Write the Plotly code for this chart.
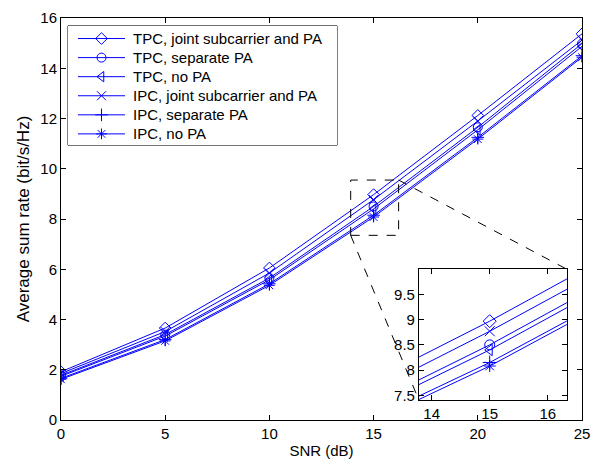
import plotly.graph_objects as go

# Average sum rate (bit/s/Hz) versus SNR (dB)
snr = [0, 5, 10, 15, 20, 25]
tpc_joint = [1.92, 3.66, 6.05, 8.97, 12.12, 15.37]
ipc_joint = [1.85, 3.52, 5.85, 8.77, 11.90, 15.12]
tpc_separate = [1.78, 3.40, 5.65, 8.50, 11.65, 14.98]
tpc_nopa = [1.74, 3.34, 5.58, 8.40, 11.55, 14.87]
ipc_separate = [1.66, 3.20, 5.42, 8.15, 11.25, 14.50]
ipc_nopa = [1.62, 3.15, 5.36, 8.08, 11.18, 14.44]

series = [
    ("TPC, joint subcarrier and PA", tpc_joint, "diamond-open"),
    ("TPC, separate PA", tpc_separate, "circle-open"),
    ("TPC, no PA", tpc_nopa, "triangle-left-open"),
    ("IPC, joint subcarrier and PA", ipc_joint, "x-thin-open"),
    ("IPC, separate PA", ipc_separate, "cross-thin-open"),
    ("IPC, no PA", ipc_nopa, "asterisk-open"),
]

# zoomed region shown in the inset
zoom_x = [13.9, 16.2]
zoom_y = [7.35, 9.55]
inset_x = [13.78, 16.33]
inset_y = [7.4, 10.0]

BLUE = "rgb(0,0,255)"
FONT = "Liberation Sans, Arial, Helvetica, sans-serif"

W, H = 607, 466
ml, mr, mt, mb = 61, 25, 9, 46
plot_w, plot_h = W - ml - mr, H - mt - mb
main_x = [0, 25]
main_y = [0, 16]
inset_dom_x = [0.687, 0.971]
inset_dom_y = [0.049, 0.375]

# legend box in pixels (left, top, width, height) and its row layout
leg_left, leg_top, leg_w, leg_h = 68, 17, 269, 122
leg_row0, leg_row_step = 13, 19.5
leg_line = [10, 57]
leg_text_x = 63

fig = go.Figure()

for name, vals, sym in series:
    fig.add_trace(go.Scatter(
        x=snr, y=vals, name=name, mode="lines+markers", showlegend=False,
        line=dict(color=BLUE, width=1),
        marker=dict(symbol=sym, size=9, color=BLUE, line=dict(color=BLUE, width=1)),
        xaxis="x", yaxis="y",
    ))
for name, vals, sym in series:
    fig.add_trace(go.Scatter(
        x=snr, y=vals, name=name, mode="lines+markers", showlegend=False,
        line=dict(color=BLUE, width=1),
        marker=dict(symbol=sym, size=10, color=BLUE, line=dict(color=BLUE, width=1)),
        xaxis="x2", yaxis="y2",
    ))

# legend: key samples drawn on a hidden pixel-scaled axis pair
for i, (name, vals, sym) in enumerate(series):
    ry = leg_row0 + i * leg_row_step
    fig.add_trace(go.Scatter(
        x=leg_line, y=[ry, ry], mode="lines", showlegend=False, hoverinfo="skip",
        line=dict(color=BLUE, width=1), xaxis="x3", yaxis="y3",
    ))
    fig.add_trace(go.Scatter(
        x=[sum(leg_line) / 2], y=[ry], mode="markers", showlegend=False, hoverinfo="skip",
        marker=dict(symbol=sym, size=9, color=BLUE, line=dict(color=BLUE, width=1)),
        xaxis="x3", yaxis="y3",
    ))
    fig.add_annotation(x=leg_text_x, y=ry, xref="x3", yref="y3", text=name,
                       showarrow=False, xanchor="left", yanchor="middle",
                       font=dict(family=FONT, size=15, color="black"))

axis_common = dict(
    showgrid=False, zeroline=False, showline=True, linecolor="black", linewidth=1,
    mirror="ticks", ticks="inside", ticklen=5, tickcolor="black",
    tickfont=dict(family=FONT, size=15, color="black"),
)

leg_dom_x = [(leg_left - ml) / plot_w, (leg_left + leg_w - ml) / plot_w]
leg_dom_y = [1 - (leg_top + leg_h - mt) / plot_h, 1 - (leg_top - mt) / plot_h]

fig.update_layout(
    width=W, height=H,
    margin=dict(l=ml, r=mr, t=mt, b=mb),
    paper_bgcolor="white", plot_bgcolor="white",
    font=dict(family=FONT, size=15, color="black"),
    showlegend=False,
    xaxis=dict(range=main_x, tickvals=[0, 5, 10, 15, 20, 25], domain=[0, 1],
               title=dict(text="SNR (dB)", font=dict(size=15), standoff=4), **axis_common),
    yaxis=dict(range=main_y, tickvals=list(range(0, 17, 2)), domain=[0, 1],
               title=dict(text="Average sum rate (bit/s/Hz)", font=dict(size=17), standoff=6),
               **axis_common),
    xaxis2=dict(range=inset_x, tickvals=[14, 15, 16], domain=inset_dom_x, anchor="y2",
                **axis_common),
    yaxis2=dict(range=inset_y, tickvals=[7.5, 8, 8.5, 9, 9.5], domain=inset_dom_y, anchor="x2",
                **axis_common),
    xaxis3=dict(range=[0, leg_w], domain=leg_dom_x, anchor="y3", visible=False, fixedrange=True),
    yaxis3=dict(range=[leg_h, 0], domain=leg_dom_y, anchor="x3", visible=False, fixedrange=True),
)

# legend frame
fig.add_shape(type="rect", xref="x3 domain", yref="y3 domain", x0=0, x1=1, y0=0, y1=1,
              line=dict(color="black", width=1), layer="below")

# dashed zoom box in the main axes
fig.add_shape(type="rect", xref="x", yref="y",
              x0=zoom_x[0], x1=zoom_x[1], y0=zoom_y[0], y1=zoom_y[1],
              line=dict(color="black", width=1, dash="dash"))

# connectors from the zoom box to the inset corners (inset corners in main data units)
def paper_to_main(px, py):
    return (main_x[0] + px * (main_x[1] - main_x[0]),
            main_y[0] + py * (main_y[1] - main_y[0]))

tr = paper_to_main(inset_dom_x[1], inset_dom_y[1])
bl = paper_to_main(inset_dom_x[0], inset_dom_y[0])
fig.add_shape(type="line", xref="x", yref="y",
              x0=zoom_x[1], y0=zoom_y[1], x1=tr[0], y1=tr[1],
              line=dict(color="black", width=1, dash="dash"))
fig.add_shape(type="line", xref="x", yref="y",
              x0=zoom_x[0], y0=zoom_y[0], x1=bl[0], y1=bl[1],
              line=dict(color="black", width=1, dash="dash"))

fig.write_html("out.html")
